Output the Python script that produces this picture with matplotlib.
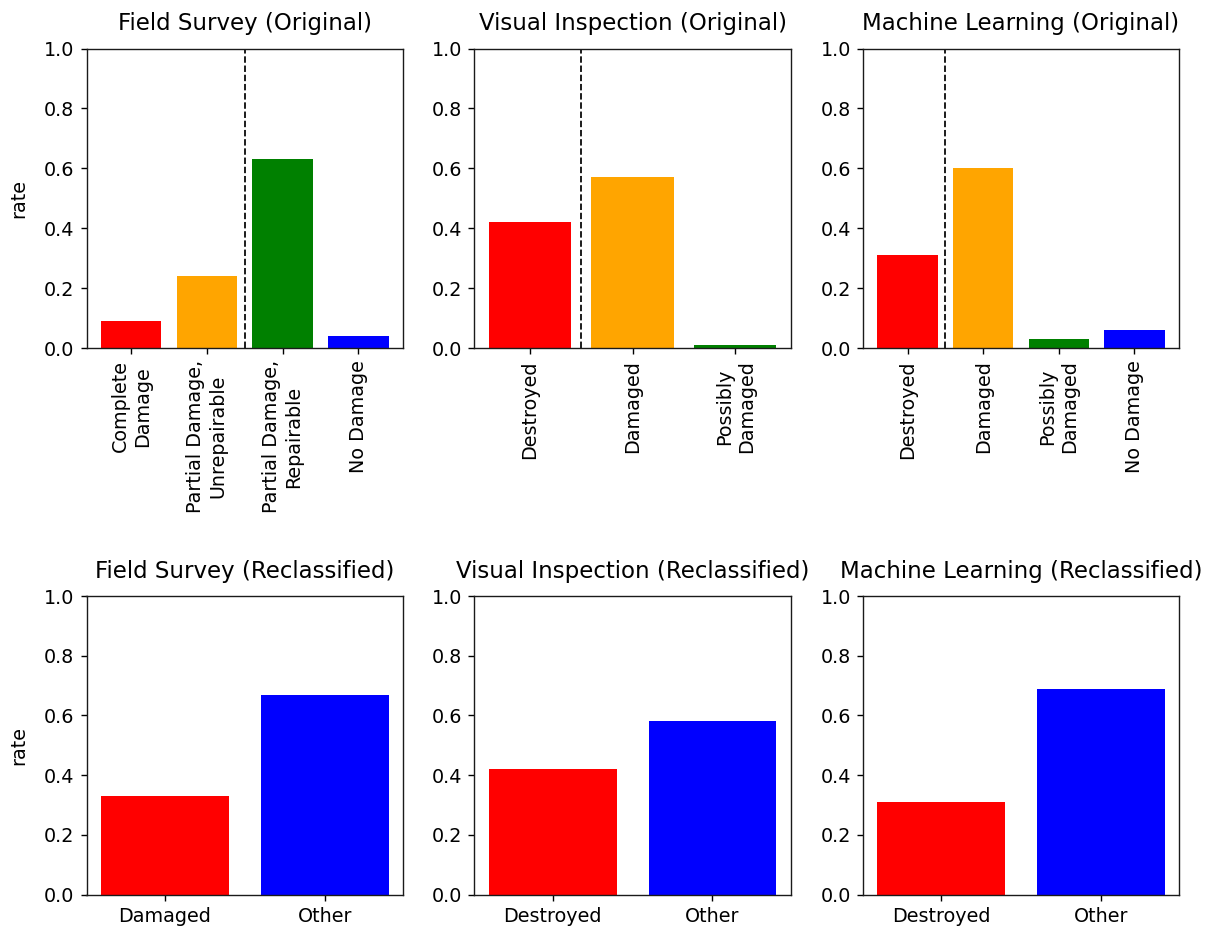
import matplotlib
matplotlib.use("Agg")
import matplotlib.pyplot as plt

# Original damage classes per assessment method
field_labels = ["Complete\nDamage", "Partial Damage,\nUnrepairable",
                "Partial Damage,\nRepairable", "No Damage"]
field_rates = [0.09, 0.24, 0.63, 0.04]

visual_labels = ["Destroyed", "Damaged", "Possibly\nDamaged"]
visual_rates = [0.42, 0.57, 0.01]

ml_labels = ["Destroyed", "Damaged", "Possibly\nDamaged", "No Damage"]
ml_rates = [0.31, 0.60, 0.03, 0.06]

# Reclassified into two groups
field_re_labels = ["Damaged", "Other"]
field_re_rates = [0.33, 0.67]

visual_re_labels = ["Destroyed", "Other"]
visual_re_rates = [0.42, 0.58]

ml_re_labels = ["Destroyed", "Other"]
ml_re_rates = [0.31, 0.69]

four_colors = ["red", "orange", "green", "blue"]
two_colors = ["red", "blue"]

plt.rcParams.update({
    "font.size": 11,
    "xtick.labelsize": 11,
    "ytick.labelsize": 11,
    "axes.labelsize": 11,
    "axes.titlesize": 13.2,
    "axes.edgecolor": "#1a1a1a",
})

W, H, DPI = 1218, 931, 125
fig = plt.figure(figsize=(W / DPI, H / DPI), dpi=DPI)

lefts = [86.5, 474.3, 863.0]
widths = [316.5, 316.5, 316.0]
top_row = (48.5, 348.0)
bot_row = (596.0, 894.5)


def make_axes(col, row):
    x0 = lefts[col] / W
    w = widths[col] / W
    y_top, y_bot = row
    return fig.add_axes([x0, 1 - y_bot / H, w, (y_bot - y_top) / H])


panels_top = [
    ("Field Survey (Original)", field_labels, field_rates, 1.5),
    ("Visual Inspection (Original)", visual_labels, visual_rates, 0.5),
    ("Machine Learning (Original)", ml_labels, ml_rates, 0.5),
]
panels_bot = [
    ("Field Survey (Reclassified)", field_re_labels, field_re_rates),
    ("Visual Inspection (Reclassified)", visual_re_labels, visual_re_rates),
    ("Machine Learning (Reclassified)", ml_re_labels, ml_re_rates),
]

for i, (title, labels, rates, split) in enumerate(panels_top):
    ax = make_axes(i, top_row)
    x = list(range(len(labels)))
    ax.bar(x, rates, color=four_colors[:len(labels)])
    ax.axvline(split, color="black", linestyle="--", linewidth=1.0)
    ax.set_xticks(x)
    ax.set_xticklabels(labels, rotation=90)
    ax.set_ylim(0, 1.0)
    ax.set_title(title, pad=10.5)
    if i == 0:
        ax.set_ylabel("rate", labelpad=9)

for i, (title, labels, rates) in enumerate(panels_bot):
    ax = make_axes(i, bot_row)
    x = list(range(len(labels)))
    ax.bar(x, rates, color=two_colors)
    ax.set_xticks(x)
    ax.set_xticklabels(labels)
    ax.set_ylim(0, 1.0)
    ax.set_title(title, pad=10.5)
    if i == 0:
        ax.set_ylabel("rate", labelpad=9)

fig.savefig("out.png", dpi=DPI)
